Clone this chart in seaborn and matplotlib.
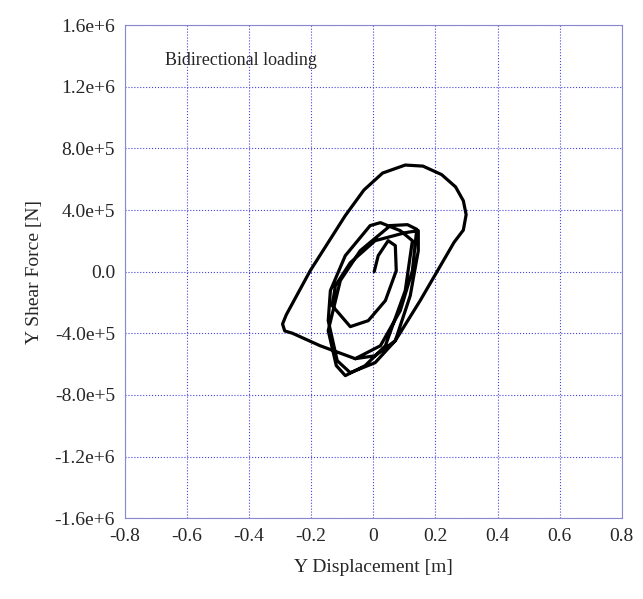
import numpy as np
import pandas as pd
import matplotlib
matplotlib.use('Agg')
import matplotlib.pyplot as plt
import seaborn as sns

# hysteresis trace
disp = [0.003, 0.016, 0.048, 0.071, 0.074, 0.039, -0.016, -0.074, -0.132, -0.122,
        -0.074, 0.006, 0.103, 0.145, 0.145, 0.119, 0.071, 0.006, -0.074, -0.116,
        -0.145, -0.138, -0.090, -0.010, 0.023, 0.087, 0.126, 0.103, 0.039, -0.026,
        -0.090, -0.119, -0.145, -0.106, -0.042, 0.055, 0.110, 0.140, 0.126, 0.087, 0.023,
        -0.058, -0.171, -0.260, -0.285, -0.292, -0.280, -0.203, -0.090, -0.030, 0.030,
        0.103, 0.160, 0.220, 0.265, 0.290, 0.299, 0.290, 0.260, 0.151, 0.071, 0.006, -0.058]
force = [0.0, 1.04e5, 2.01e5, 1.69e5, 0.06e5, -1.88e5, -3.18e5, -3.57e5, -2.21e5, -0.91e5,
         0.58e5, 2.01e5, 2.53e5, 2.66e5, 1.36e5, -1.56e5, -4.48e5, -5.91e5, -6.56e5, -5.78e5,
         -3.18e5, -1.23e5, 1.04e5, 2.99e5, 3.18e5, 2.66e5, 2.01e5, -1.23e5, -4.81e5, -6.10e5,
         -6.75e5, -6.10e5, -3.83e5, -0.58e5, 1.36e5, 2.99e5, 3.05e5, 2.75e5, 0.06e5, -2.53e5, -4.81e5,
         -5.65e5, -4.81e5, -4.00e5, -3.85e5, -3.40e5, -2.80e5, 0.06e5, 3.64e5, 5.30e5, 6.40e5,
         6.92e5, 6.85e5, 6.30e5, 5.50e5, 4.60e5, 3.70e5, 2.70e5, 1.90e5, -1.88e5, -4.48e5, -5.46e5, -5.65e5]

xticks = np.arange(-0.8, 0.81, 0.2)
yticks = np.arange(-1.6e6, 1.61e6, 4e5)

df = pd.DataFrame({'d': disp, 'f': force})

sns.set_style('white')
plt.rcParams['font.family'] = ['Liberation Serif', 'DejaVu Serif']

fig = plt.figure(figsize=(6.43, 5.99), dpi=100)
ax = fig.add_axes([0.194, 0.135, 0.773, 0.823])
sns.lineplot(data=df, x='d', y='f', sort=False, estimator=None, color='black',
             linewidth=2.3, ax=ax, solid_joinstyle='round')

ax.set_xlim(-0.8, 0.8)
ax.set_ylim(-1.6e6, 1.6e6)
ax.set_xticks(xticks)
ax.set_yticks(yticks)
ax.set_xticklabels([f'{v:.1f}' if abs(v) > 1e-9 else '0' for v in xticks])
ylabels = []
for v in yticks:
    if abs(v) < 1:
        ylabels.append('0.0')
    else:
        e = int(np.floor(np.log10(abs(v))))
        ylabels.append(f'{v / 10**e:.1f}e+{e}')
ax.set_yticklabels(ylabels)
ax.grid(True, color='#4444dd', linestyle=':', linewidth=0.8)
for s in ax.spines.values():
    s.set_color('#8888cc')
ax.tick_params(labelsize=14, length=0, pad=7)
ax.set_xlabel('Y Displacement [m]', fontsize=14, labelpad=10)
ax.set_ylabel('Y Shear Force [N]', fontsize=14, labelpad=8)
ax.text(-0.67, 1.34e6, 'Bidirectional loading', fontsize=13)

fig.savefig('out.png', dpi=100)
